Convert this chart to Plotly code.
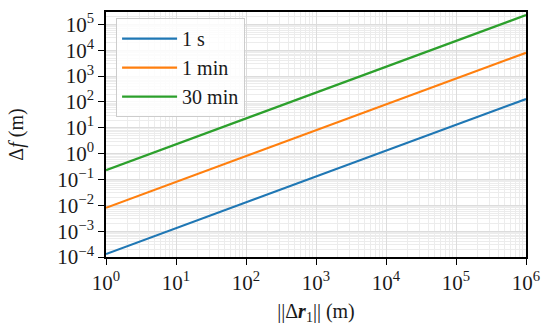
import plotly.graph_objects as go

# data (log-log straight lines)
x_vals = [1, 10, 100, 1e3, 1e4, 1e5, 1e6]
df_1s = [1.3e-4, 1.3e-3, 1.3e-2, 1.3e-1, 1.3, 13, 130]
df_1min = [8.0e-3, 8.0e-2, 0.80, 8.0, 80, 800, 8000]
df_30min = [0.23, 2.3, 23, 230, 2300, 23000, 230000]
series_names = ["1 s", "1 min", "30 min"]
colors = ["#1f77b4", "#ff7f0e", "#2ca02c"]

x_tickvals = [1, 10, 100, 1e3, 1e4, 1e5, 1e6]
x_ticktext = [f"10<sup>{i}</sup>" for i in range(0, 7)]
y_tickvals = [10.0 ** i for i in range(-4, 6)]
y_ticktext = [f"10<sup>{i}</sup>" if i >= 0 else f"10<sup>\u2212{-i}</sup>" for i in range(-4, 6)]

FONT = "Liberation Serif, serif"
TXT = "#1a1a1a"

fig = go.Figure()
for i, (name, ys, c) in enumerate(zip(series_names, [df_1s, df_1min, df_30min], colors)):
    fig.add_trace(go.Scatter(x=x_vals, y=ys, mode="lines", name=name, legendgroup=f"g{i}",
                             line=dict(color=c, width=2.2)))

axis_common = dict(
    type="log", showline=True, linecolor="black", linewidth=1.6, mirror=True,
    ticks="outside", ticklen=6, tickwidth=1.4, tickcolor="black",
    showgrid=True, gridcolor="#dcdcdc", gridwidth=0.8,
    minor=dict(showgrid=True, gridcolor="#ececec", gridwidth=0.6, dtick="D1", ticks=""),
    zeroline=False, tickfont=dict(family=FONT, size=21, color=TXT),
    ticklabeloverflow="allow",
)

fig.update_xaxes(range=[0, 6], tickvals=x_tickvals, ticktext=x_ticktext,
                 title=dict(text="||\u0394<b><i>r</i></b><sub>1</sub>|| (m)",
                            font=dict(family=FONT, size=20, color=TXT), standoff=10),
                 **axis_common)
fig.update_yaxes(range=[-4, 5.48], tickvals=y_tickvals, ticktext=y_ticktext,
                 title=dict(text="\u0394<i>f</i> (m)",
                            font=dict(family=FONT, size=20, color=TXT), standoff=28),
                 **axis_common)

fig.update_layout(
    width=550, height=335,
    margin=dict(l=106, r=18, t=10, b=78),
    plot_bgcolor="white", paper_bgcolor="white",
    font=dict(family=FONT, size=20, color=TXT),
    legend=dict(x=0.024, y=0.975, xanchor="left", yanchor="top",
                bgcolor="rgba(255,255,255,0.85)", bordercolor="#cccccc", borderwidth=1,
                font=dict(family=FONT, size=20, color=TXT),
                itemwidth=55, tracegroupgap=0),
    showlegend=True,
)

fig.write_html("out.html", config={"displayModeBar": False},
               post_script="document.body.style.margin='0';")
